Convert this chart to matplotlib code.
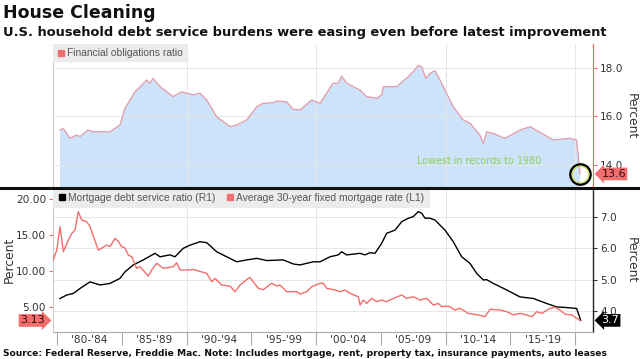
import matplotlib
matplotlib.use('Agg')
import matplotlib.pyplot as plt
from matplotlib.lines import Line2D
from matplotlib import font_manager as fm

# ---------------- data ----------------
for_year = [1980.23, 1980.49, 1981.0, 1981.52, 1981.78, 1982.39, 1982.78, 1984.09, 1984.86, 1985.25,
            1985.64, 1986.02, 1986.93, 1987.18, 1987.41, 1987.95, 1988.96, 1989.63, 1990.5, 1991.04,
            1991.56, 1992.33, 1993.36, 1993.88, 1994.65, 1995.42, 1995.91, 1996.68, 1996.97, 1997.74,
            1998.22, 1998.76, 1999.67, 2000.31, 2001.31, 2001.7, 2001.98, 2002.37, 2003.4, 2003.91,
            2004.69, 2005.07, 2005.2, 2006.23, 2007.26, 2007.9, 2008.16, 2008.49, 2008.8, 2009.19,
            2009.58, 2010.6, 2011.37, 2011.89, 2012.66, 2012.92, 2013.18, 2013.69, 2014.59, 2015.75,
            2016.53, 2018.32, 2019.61, 2020.13, 2020.39]
for_val = [15.44, 15.5, 15.1, 15.24, 15.17, 15.44, 15.37, 15.37, 15.65, 16.34,
           16.68, 17.02, 17.5, 17.37, 17.57, 17.23, 16.82, 17.02, 16.89, 16.96,
           16.68, 15.99, 15.58, 15.65, 15.86, 16.4, 16.54, 16.57, 16.64, 16.6,
           16.3, 16.27, 16.68, 16.54, 17.37, 17.37, 17.67, 17.37, 17.09, 16.82,
           16.75, 16.89, 17.23, 17.23, 17.71, 18.1, 18.05, 17.57, 17.78, 17.89,
           17.5, 16.4, 15.86, 15.72, 15.24, 14.89, 15.37, 15.3, 15.1, 15.44,
           15.58, 15.03, 15.1, 15.03, 13.63]

rate_year = [1979.71, 1979.98, 1980.23, 1980.49, 1980.87, 1981.14, 1981.39, 1981.64, 1981.91, 1982.29,
             1982.55, 1983.19, 1983.84, 1984.09, 1984.48, 1984.73, 1985.0, 1985.25, 1985.51, 1985.77,
             1986.15, 1986.41, 1987.05, 1987.31, 1987.7, 1988.21, 1988.98, 1989.24, 1989.5, 1990.02,
             1990.53, 1991.56, 1991.95, 1992.2, 1992.72, 1993.36, 1993.75, 1994.13, 1994.77, 1994.9,
             1995.54, 1995.93, 1996.58, 1996.97, 1997.22, 1997.74, 1998.51, 1998.76, 1999.28, 1999.67,
             2000.31, 2000.56, 2000.83, 2001.47, 2001.85, 2002.24, 2002.63, 2003.27, 2003.4, 2003.65,
             2003.91, 2004.3, 2004.69, 2005.07, 2005.46, 2005.97, 2006.62, 2007.0, 2007.51, 2008.03,
             2008.55, 2009.06, 2009.44, 2009.71, 2010.22, 2010.73, 2011.12, 2011.76, 2012.53, 2013.05,
             2013.44, 2014.21, 2014.73, 2015.24, 2015.75, 2016.27, 2016.66, 2017.04, 2017.43, 2018.07,
             2018.46, 2018.84, 2019.23, 2019.75, 2020.13, 2020.39]
rate_val = [11.53, 12.9, 16.15, 12.68, 14.3, 15.23, 15.7, 18.24, 17.08, 16.85,
            16.15, 12.9, 13.6, 13.4, 14.54, 14.1, 13.38, 13.2, 12.2, 12.0,
            10.37, 10.6, 9.3, 10.14, 11.07, 10.37, 10.6, 11.15, 10.14, 10.14,
            10.2, 9.68, 8.52, 8.98, 8.05, 7.9, 7.13, 8.05, 8.98, 9.1,
            7.6, 7.4, 8.3, 7.9, 8.05, 7.13, 7.13, 6.8, 7.13, 7.82,
            8.3, 8.3, 7.6, 7.36, 7.13, 7.36, 6.9, 6.43, 5.28, 5.97,
            5.5, 6.2, 5.74, 5.97, 5.74, 6.2, 6.67, 6.2, 6.43, 5.97,
            6.2, 5.28, 5.5, 5.05, 5.12, 4.58, 4.82, 4.12, 3.9, 3.65,
            4.68, 4.58, 4.35, 3.9, 4.12, 3.9, 3.65, 4.35, 4.12, 4.82,
            4.97, 4.58, 4.0, 3.9, 3.43, 3.13]

dsr_year = [1980.23, 1980.75, 1981.26, 1981.78, 1982.55, 1983.32, 1984.09, 1984.86, 1985.25, 1985.89,
            1986.66, 1987.57, 1987.95, 1988.73, 1989.11, 1989.75, 1990.27, 1991.04, 1991.56, 1992.33,
            1993.1, 1993.88, 1994.65, 1995.42, 1996.19, 1997.47, 1998.25, 1998.76, 1999.79, 2000.31,
            2001.08, 2001.72, 2001.98, 2002.37, 2003.4, 2003.78, 2004.17, 2004.56, 2005.07, 2005.46,
            2006.1, 2006.62, 2007.13, 2007.51, 2007.9, 2008.16, 2008.42, 2008.8, 2009.19, 2009.96,
            2010.6, 2011.25, 2011.89, 2012.41, 2012.92, 2013.18, 2013.69, 2014.73, 2015.75, 2016.78,
            2017.81, 2018.59, 2019.36, 2020.13, 2020.44]
dsr_val = [4.40, 4.51, 4.56, 4.72, 4.93, 4.83, 4.88, 5.04, 5.25, 5.47,
           5.63, 5.84, 5.73, 5.79, 5.73, 6.0, 6.1, 6.21, 6.18, 5.89,
           5.73, 5.57, 5.63, 5.68, 5.61, 5.63, 5.5, 5.47, 5.57, 5.57,
           5.73, 5.79, 5.89, 5.79, 5.84, 5.79, 5.86, 5.84, 6.16, 6.48,
           6.58, 6.85, 6.96, 7.01, 7.17, 7.12, 6.96, 6.96, 6.9, 6.58,
           6.21, 5.73, 5.52, 5.2, 4.99, 5.0, 4.88, 4.67, 4.45, 4.40,
           4.24, 4.13, 4.11, 4.08, 3.7]

top_ticks = [14.0, 16.0, 18.0]
left_ticks = [5, 10, 15, 20]
right_ticks = [4.0, 5.0, 6.0, 7.0]
period_starts = [1980, 1985, 1990, 1995, 2000, 2005, 2010, 2015, 2020]
period_labels = ["'80-'84", "'85-'89", "'90-'94", "'95-'99", "'00-'04", "'05-'09", "'10-'14", "'15-'19"]
grid_years = [1990, 2000, 2010, 2020]

title = "House Cleaning"
subtitle = "U.S. household debt service burdens were easing even before latest improvement"
source = ("Source: Federal Reserve, Freddie Mac. Note: Includes mortgage, rent, property tax, "
          "insurance payments, auto leases")
for_label = "Financial obligations ratio"
dsr_label = "Mortgage debt service ratio (R1)"
rate_label = "Average 30-year fixed mortgage rate (L1)"
note = "Lowest in records to 1980"

# ---------------- style ----------------
names = {f.name for f in fm.fontManager.ttflist}
if 'Liberation Sans Narrow' in names:
    NARROW, NSIZE = 'Liberation Sans Narrow', 8.2
elif 'Liberation Sans' in names:
    NARROW, NSIZE = 'Liberation Sans', 7.4
else:
    NARROW, NSIZE = 'DejaVu Sans', 6.6
plt.rcParams['font.family'] = ['DejaVu Sans']

RED = '#f26d6d'
FILL = '#cce3fa'
GRID = '#e6e6e6'
TXT = '#333333'

W, H = 640, 359
fig = plt.figure(figsize=(6.4, 3.59), dpi=100)
fig.patch.set_facecolor('white')

def fx(p):
    return p / W

def fy(p):
    return 1 - p / H

XMIN, XMAX = 1979.69, 2021.39

ax1 = fig.add_axes([fx(53), fy(187.5), fx(540), (187.5 - 44) / H])
ax2 = fig.add_axes([fx(53), fy(332), fx(540), (332 - 187.5) / H])
ax3 = ax2.twinx()

# ---------------- top panel ----------------
ax1.fill_between(for_year, for_val, 0, color=FILL, lw=0, zorder=1)
ax1.plot(for_year, for_val, color='#e49aa8', lw=0.9, zorder=3)
ax1.set_xlim(XMIN, XMAX)
ax1.set_ylim(13.07, 18.99)
ax1.set_xticks(grid_years)
ax1.tick_params(axis='x', length=0, labelbottom=False)
ax1.yaxis.tick_right()
ax1.set_yticks(top_ticks)
ax1.set_yticklabels([f'{t:.1f}' for t in top_ticks])
ax1.tick_params(axis='y', colors=RED, length=3, width=0.8, labelsize=7.6, labelcolor=TXT, pad=2)
ax1.grid(True, color=GRID, lw=0.7, zorder=2)
ax1.set_axisbelow(False)
for s in ['top', 'bottom']:
    ax1.spines[s].set_visible(False)
ax1.spines['left'].set_color('#cccccc')
ax1.spines['right'].set_color(RED)
ax1.spines['right'].set_linewidth(0.9)

leg1 = ax1.legend(handles=[Line2D([], [], marker='s', ls='', color=RED, ms=4.5)], labels=[for_label],
                  loc='upper left', bbox_to_anchor=(0, 1), borderaxespad=0, frameon=True, fancybox=False,
                  facecolor='#ececec', edgecolor='none', framealpha=1, handlelength=0.7,
                  handletextpad=0.3, borderpad=0.4, prop={'family': NARROW, 'size': NSIZE},
                  labelcolor='#555555')
leg1.set_zorder(6)

ax1.text(0.789, 0.185, note, transform=ax1.transAxes, color='#92d050', fontsize=6.9,
         ha='center', va='center', zorder=6)
ax1.plot([for_year[-1]], [for_val[-1]], marker='o', ms=14.5, mfc='none', mec='black', mew=1.8,
         clip_on=False, zorder=7)
ax1.plot([for_year[-1]], [for_val[-1]], marker='o', ms=12.0, mfc='none', mec='#c6e05a', mew=1.0,
         clip_on=False, zorder=7)
ax1.annotate(f'{for_val[-1]:.1f}', xy=(1, for_val[-1]), xycoords=('axes fraction', 'data'),
             xytext=(6, 0), textcoords='offset points', ha='left', va='center', fontsize=8,
             color='#3a0a0a', annotation_clip=False, zorder=8,
             bbox=dict(boxstyle='larrow,pad=0.12', fc=RED, ec='none'))

# ---------------- bottom panel ----------------
ax2.set_zorder(ax3.get_zorder() + 1)
ax2.patch.set_visible(False)
ax3.patch.set_visible(False)

ax3.plot(dsr_year, dsr_val, color='black', lw=1.0, zorder=3)
ax3.set_ylim(3.33, 7.94)
ax3.set_yticks(right_ticks)
ax3.set_yticklabels([f'{t:.1f}' for t in right_ticks])
ax3.tick_params(axis='y', colors=TXT, length=3, width=0.8, labelsize=7.6, pad=2)
ax3.grid(True, axis='y', color=GRID, lw=0.7)
for yr in grid_years:
    ax3.axvline(yr, color=GRID, lw=0.7, zorder=0)
for s in ['top', 'left', 'bottom']:
    ax3.spines[s].set_visible(False)
ax3.spines['right'].set_color('#222222')
ax3.spines['right'].set_linewidth(1.0)

ax2.plot(rate_year, rate_val, color=RED, lw=1.0, zorder=3)
ax2.set_xlim(XMIN, XMAX)
ax2.set_ylim(1.53, 21.6)
ax2.set_yticks(left_ticks)
ax2.set_yticklabels([f'{t:.2f}' for t in left_ticks])
ax2.tick_params(axis='y', colors=RED, length=3, width=0.8, labelsize=7.6, labelcolor=TXT, pad=2)
ax2.set_xticks(period_starts)
ax2.set_xticklabels([])
ax2.tick_params(axis='x', which='major', length=9.5, width=0.8, color='#aaaaaa')
mids = [(a + b) / 2 for a, b in zip(period_starts[:-1], period_starts[1:])]
ax2.set_xticks(mids, minor=True)
ax2.set_xticklabels(period_labels, minor=True)
ax2.tick_params(axis='x', which='minor', length=0, labelsize=7.6, labelcolor=TXT, pad=2)
for s in ['top', 'right']:
    ax2.spines[s].set_visible(False)
ax2.spines['left'].set_color('#cccccc')
ax2.spines['bottom'].set_color('#aaaaaa')

leg2 = ax2.legend(handles=[Line2D([], [], marker='s', ls='', color='black', ms=4.5),
                           Line2D([], [], marker='s', ls='', color=RED, ms=4.5)],
                  labels=[dsr_label, rate_label], ncol=2,
                  loc='upper left', bbox_to_anchor=(0, 1), borderaxespad=0, frameon=True, fancybox=False,
                  facecolor='#ececec', edgecolor='none', framealpha=1, handlelength=0.7,
                  handletextpad=0.3, borderpad=0.5, columnspacing=1.0,
                  prop={'family': NARROW, 'size': NSIZE}, labelcolor='#555555')

ax2.annotate(f'{rate_val[-1]:.2f}', xy=(0, rate_val[-1]), xycoords=('axes fraction', 'data'),
             xytext=(-6, 0), textcoords='offset points', ha='right', va='center', fontsize=8,
             color='#3a0a0a', annotation_clip=False, zorder=8,
             bbox=dict(boxstyle='rarrow,pad=0.12', fc=RED, ec='none'))
ax3.annotate(f'{dsr_val[-1]:.1f}', xy=(1, dsr_val[-1]), xycoords=('axes fraction', 'data'),
             xytext=(6, 0), textcoords='offset points', ha='left', va='center', fontsize=8,
             color='white', annotation_clip=False, zorder=8,
             bbox=dict(boxstyle='larrow,pad=0.12', fc='black', ec='none'))

# ---------------- figure text ----------------
fig.add_artist(Line2D([0, 1], [fy(187.5)] * 2, transform=fig.transFigure, color='#111111', lw=2.2, zorder=10))
fig.text(fx(3), fy(18), title, fontsize=12.5, fontweight='bold', va='baseline', ha='left', color='#111111')
fig.text(fx(3), fy(36), subtitle, fontsize=9.38, fontweight='bold', va='baseline', ha='left', color='#111111')
fig.text(fx(3), fy(353), source, fontsize=6.55, fontweight='bold', va='center', ha='left', color='#111111')
fig.text(fx(631), fy(116), 'Percent', rotation=270, va='center', ha='center', fontsize=8.8, color=TXT)
fig.text(fx(631), fy(260), 'Percent', rotation=270, va='center', ha='center', fontsize=8.8, color=TXT)
fig.text(fx(9), fy(260), 'Percent', rotation=90, va='center', ha='center', fontsize=8.8, color=TXT)

fig.savefig('out.png', dpi=100)
